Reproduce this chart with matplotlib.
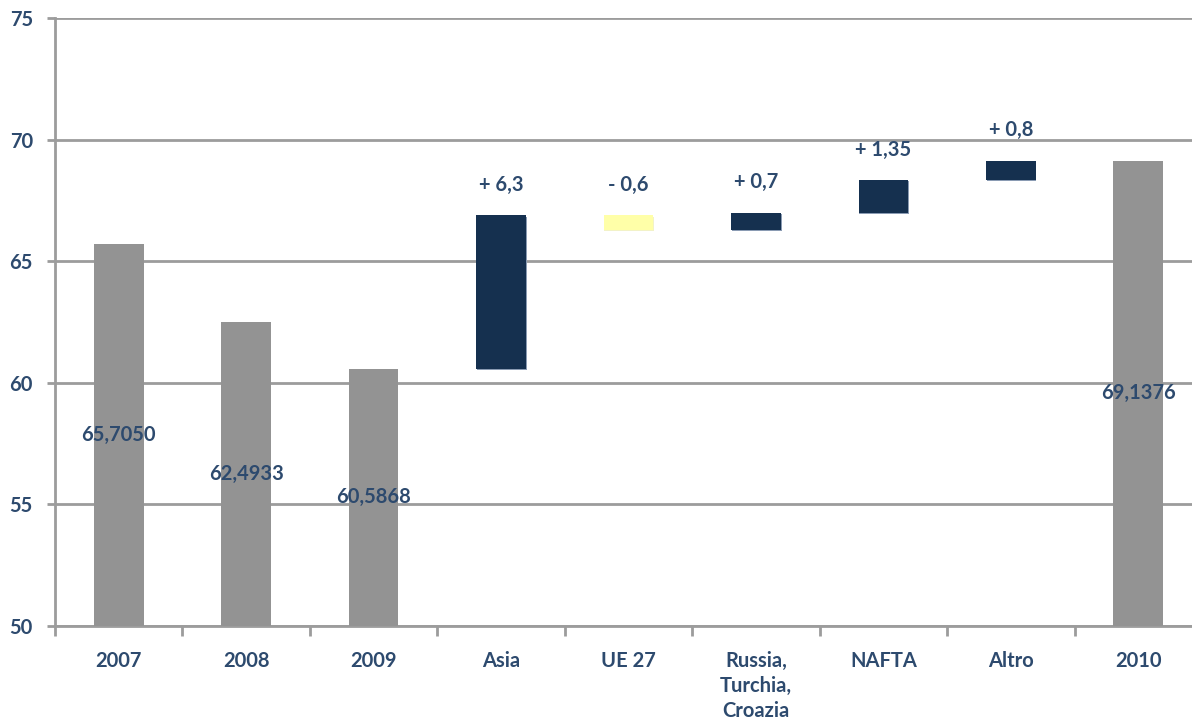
import matplotlib.pyplot as plt
import numpy as np

plt.rcParams["font.family"] = ["Lato", "DejaVu Sans"]

categories = ["2007", "2008", "2009", "Asia", "UE 27", "Russia,\nTurchia,\nCroazia",
              "NAFTA", "Altro", "2010"]
totals = {"2007": 65.7050, "2008": 62.4933, "2009": 60.5868, "2010": 69.1376}
delta_cats = ["Asia", "UE 27", "Russia,\nTurchia,\nCroazia", "NAFTA", "Altro"]
deltas = [6.3, -0.6, 0.7, 1.35, 0.8]
delta_labels = ["+ 6,3", "- 0,6", "+ 0,7", "+ 1,35", "+ 0,8"]

TXT = "#2d4a6e"
GRAY = "#939393"
NAVY = "#15304f"
YELLOW = "#ffffa8"
GRID = "#9c9c9c"
FS = 14.5

fig = plt.figure(figsize=(11.92, 7.22), dpi=100)
# axes run slightly past the right edge of the figure
ax = fig.add_axes([55 / 1192, 1 - 626 / 722, 1147 / 1192, 608 / 722])

x = np.arange(len(categories))
w = 0.39

# totals bars with value label in the middle
for cat, val in totals.items():
    i = categories.index(cat)
    ax.bar(i, val - 50, bottom=50, width=w, color=GRAY, zorder=3)
    ax.text(i, (50 + val) / 2, f"{val:.4f}".replace(".", ","), ha="center", va="center",
            fontsize=FS, fontweight="bold", color=TXT, zorder=4)

# floating delta bars
level = totals["2009"]
for cat, d, lab in zip(delta_cats, deltas, delta_labels):
    i = categories.index(cat)
    lo, hi = min(level, level + d), max(level, level + d)
    ax.bar(i + 0.006, hi - lo, bottom=lo - 0.05, width=w, color="#8a9bb3" if d > 0 else "#f2f2c8",
           zorder=2)
    ax.bar(i, hi - lo, bottom=lo, width=w, color=NAVY if d > 0 else YELLOW, zorder=3)
    ax.annotate(lab, (i, hi), xytext=(0, 22), textcoords="offset points", ha="center",
                va="center", fontsize=FS, fontweight="bold", color=TXT, zorder=4)
    level += d

ax.set_xlim(-0.5, len(categories) - 0.5)
ax.set_ylim(50, 75)
ax.set_yticks(np.arange(50, 76, 5))
ax.yaxis.grid(True, color=GRID, linewidth=2, zorder=1)
ax.set_axisbelow(True)

ax.set_xticks(x)
ax.set_xticklabels(categories, fontsize=FS, fontweight="bold", color=TXT, linespacing=1.3,
                   va="top")
ax.set_xticks(np.arange(-0.5, len(categories), 1), minor=True)
ax.tick_params(axis="x", which="major", length=0, pad=18)
ax.tick_params(axis="x", which="minor", length=7, width=2, color=GRID, direction="out")
ax.tick_params(axis="y", length=6, width=2, color=GRID, pad=10, labelsize=FS,
               labelcolor=TXT)
for t in ax.get_yticklabels():
    t.set_fontweight("bold")

for s in ["top", "right"]:
    ax.spines[s].set_visible(False)
for s in ["left", "bottom"]:
    ax.spines[s].set_color(GRID)
    ax.spines[s].set_linewidth(2)

fig.savefig("out.png", dpi=100, facecolor="white")
